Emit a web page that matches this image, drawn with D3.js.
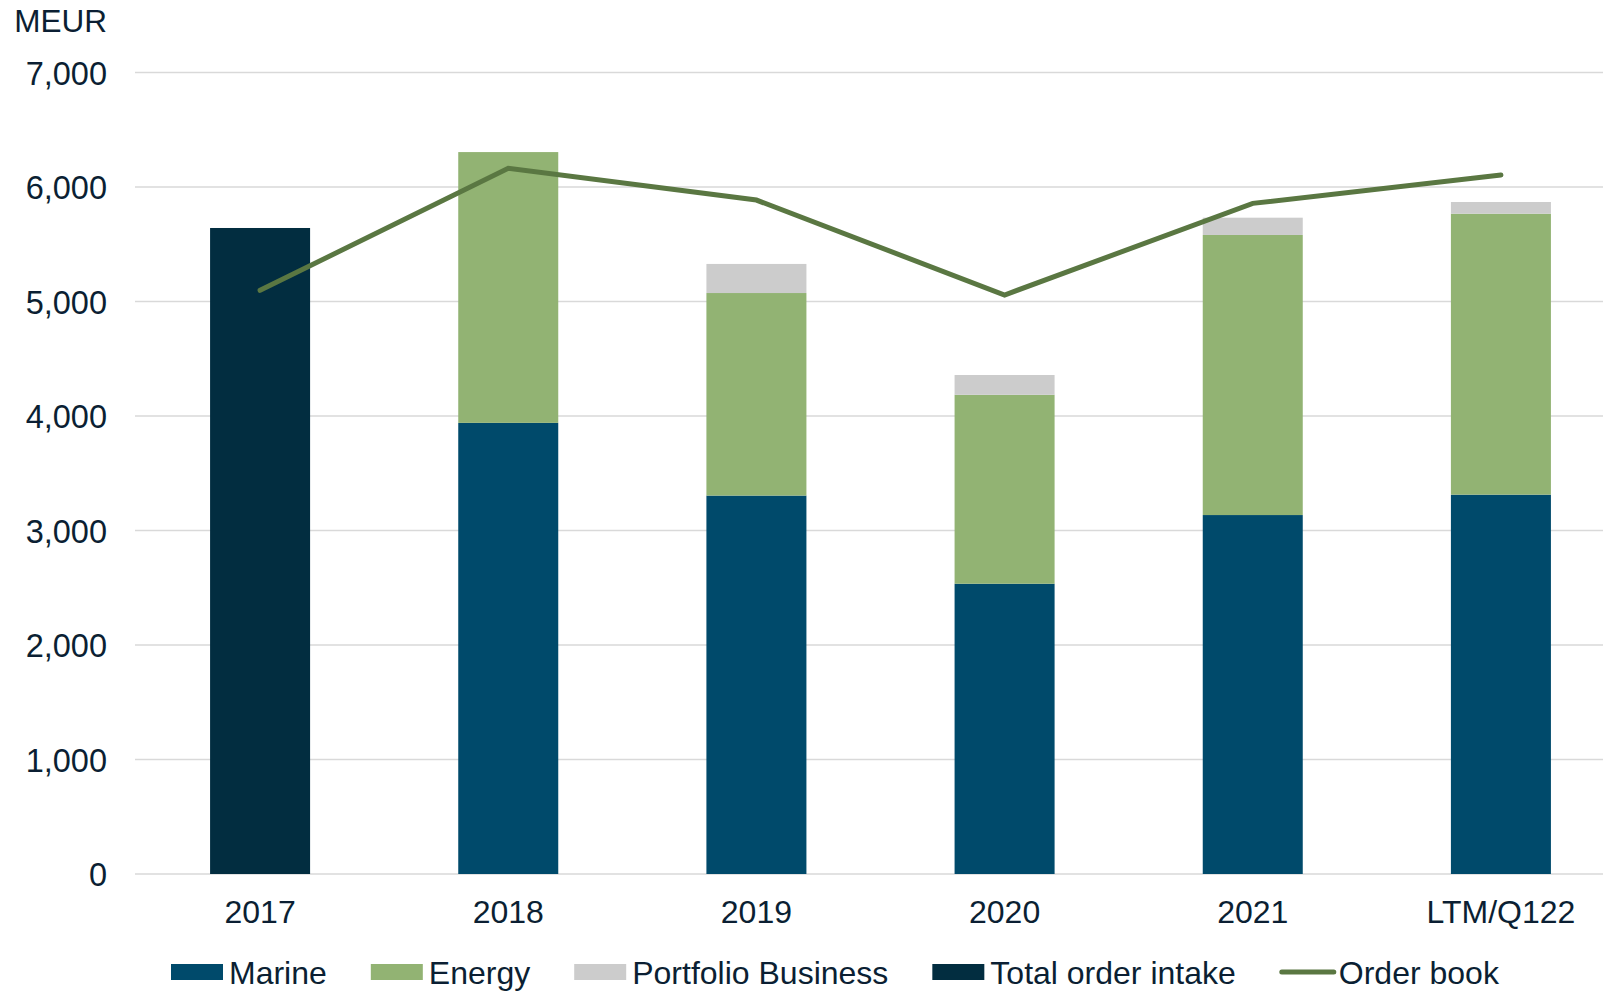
<!DOCTYPE html>
<html>
<head>
<meta charset="utf-8">
<script src="https://cdn.jsdelivr.net/npm/d3@7"></script>
<style>
  html, body { margin: 0; padding: 0; background: #fff; }
  svg { display: block; font-family: "Liberation Sans", Arial, sans-serif; }
</style>
</head>
<body>
<svg id="chart" width="1603" height="991"></svg>
<script>
// ---- data ----
const categories = ["2017", "2018", "2019", "2020", "2021", "LTM/Q122"];
const marine     = [0,    3940, 3305, 2535, 3135, 3313];
const energy     = [0,    2365, 1769, 1650, 2446, 2454];
const portfolio  = [0,    0,    254,  173,  151,  102];
const totalOrderIntake = [5642, null, null, null, null, null];
const orderBook  = [5098, 6163, 5886, 5057, 5857, 6105];
const yTicks     = [0, 1000, 2000, 3000, 4000, 5000, 6000, 7000];
const unitLabel  = "MEUR";
const seriesNames = ["Marine", "Energy", "Portfolio Business", "Total order intake", "Order book"];

// ---- styles ----
const colors = {
  "Marine": "#004a6b",
  "Energy": "#92b373",
  "Portfolio Business": "#cccccc",
  "Total order intake": "#022d40",
  "Order book": "#5a7742"
};
const textColor = "#0b1f33";
const gridColor = "#d9d9d9";
const fontFam = '"Liberation Sans", Arial, sans-serif';

const svg = d3.select("#chart");
const W = 1603;

const x = d3.scaleBand().domain(categories).range([136, 1625]).paddingInner(0.597).paddingOuter(0.2985);
const y = d3.scaleLinear().domain([0, 7000]).range([874, 72.5]);

// gridlines
svg.append("g").selectAll("line").data(yTicks).join("line")
  .attr("x1", 135).attr("x2", W)
  .attr("y1", d => y(d)).attr("y2", d => y(d))
  .attr("stroke", gridColor).attr("stroke-width", 1.6);

// y axis labels
const yAxis = d3.axisLeft(y).tickValues(yTicks).tickFormat(d3.format(",")).tickSize(0).tickPadding(0);
const gy = svg.append("g").attr("transform", "translate(107,0)").call(yAxis);
gy.select(".domain").remove();
gy.selectAll("text").attr("fill", textColor).style("font-size", "32.5px")
  .style("font-family", fontFam).attr("dy", "0.36em");

// unit label
svg.append("text").attr("x", 107).attr("y", 32).attr("text-anchor", "end")
  .attr("fill", textColor).style("font-size", "31.5px").text(unitLabel);

// x axis labels
const xAxis = d3.axisBottom(x).tickSize(0).tickPadding(0);
const gx = svg.append("g").attr("transform", "translate(0,874)").call(xAxis);
gx.select(".domain").remove();
gx.selectAll("text").attr("fill", textColor).style("font-size", "32px")
  .style("font-family", fontFam).attr("y", 49).attr("dy", 0);

// stacked bars
const table = categories.map((c, i) => ({
  cat: c, "Marine": marine[i], "Energy": energy[i], "Portfolio Business": portfolio[i]
}));
const stack = d3.stack().keys(["Marine", "Energy", "Portfolio Business"]);
const layers = stack(table);
svg.append("g").selectAll("g").data(layers).join("g")
  .attr("fill", d => colors[d.key])
  .selectAll("rect").data(d => d.filter(s => s[1] - s[0] > 0)).join("rect")
  .attr("x", d => x(d.data.cat))
  .attr("width", x.bandwidth())
  .attr("y", d => y(d[1]))
  .attr("height", d => y(d[0]) - y(d[1]));

// total order intake bar
svg.append("g").selectAll("rect")
  .data(categories.map((c, i) => ({ cat: c, v: totalOrderIntake[i] })).filter(d => d.v != null))
  .join("rect")
  .attr("fill", colors["Total order intake"])
  .attr("x", d => x(d.cat)).attr("width", x.bandwidth())
  .attr("y", d => y(d.v)).attr("height", d => y(0) - y(d.v));

// order book line
const line = d3.line().x((d, i) => x(categories[i]) + x.bandwidth() / 2).y(d => y(d));
svg.append("path").datum(orderBook)
  .attr("d", line).attr("fill", "none")
  .attr("stroke", colors["Order book"]).attr("stroke-width", 5)
  .attr("stroke-linecap", "round").attr("stroke-linejoin", "miter");

// legend
const legend = svg.append("g").attr("transform", "translate(171,972)");
let lx = 0;
seriesNames.forEach(name => {
  const g = legend.append("g").attr("transform", `translate(${lx},0)`);
  if (name === "Order book") {
    g.append("line").attr("x1", 2).attr("x2", 54).attr("y1", 0).attr("y2", 0)
      .attr("stroke", colors[name]).attr("stroke-width", 5).attr("stroke-linecap", "round");
  } else {
    g.append("rect").attr("x", 0).attr("y", -8).attr("width", 52).attr("height", 16)
      .attr("fill", colors[name]);
  }
  const t = g.append("text").attr("x", name === "Order book" ? 59 : 58).attr("y", 11.5)
    .attr("fill", textColor).style("font-size", "32px").text(name);
  lx += 58 + t.node().getComputedTextLength() + 44;
});
</script>
</body>
</html>
